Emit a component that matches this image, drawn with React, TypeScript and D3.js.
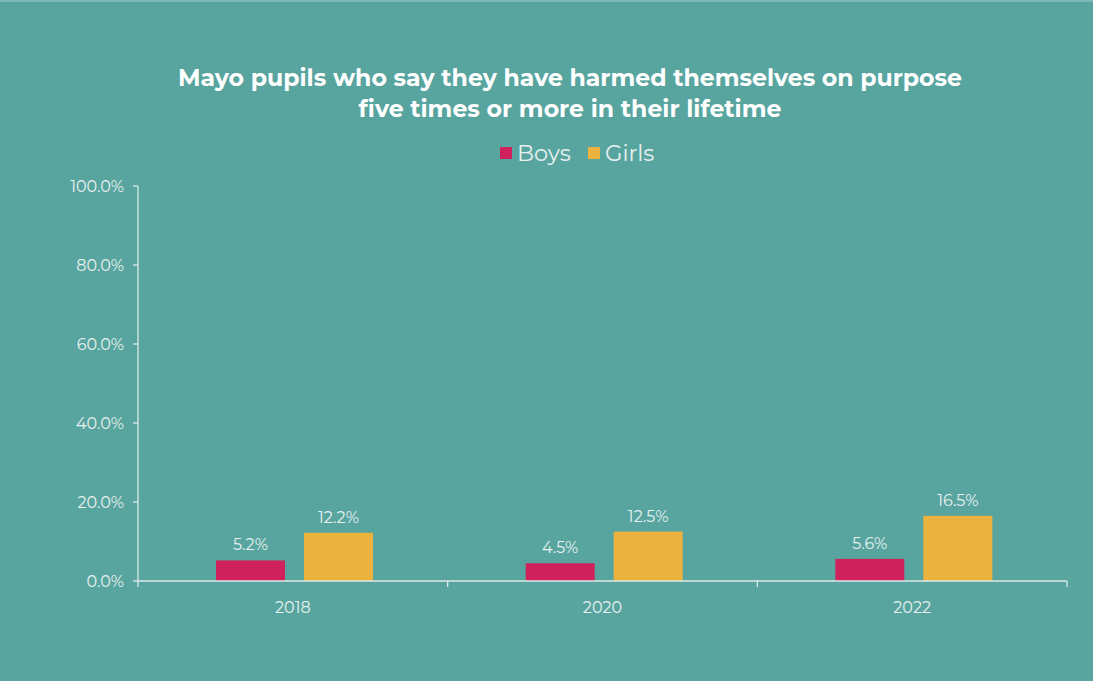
import React from "react";
import * as d3 from "d3";

const years = ["2018", "2020", "2022"];
const seriesNames = ["Boys", "Girls"];
const boys = [5.2, 4.5, 5.6];
const girls = [12.2, 12.5, 16.5];
const yTicks = [0, 20, 40, 60, 80, 100];
const titleLines = [
  "Mayo pupils who say they have harmed themselves on purpose",
  "five times or more in their lifetime",
];

const W = 1093;
const H = 681;
const BG = "#58A5A0";
const COLORS = ["#CF225C", "#EBB23E"];
const TXT = "#E8F1EF";
const AXIS = "#DCEAE7";
const FONT = "Montserrat, 'Open Sans', Lato, sans-serif";

export default function App() {
  const left = 138;
  const right = 1067;
  const top = 186;
  const bottom = 581;
  const x = d3.scaleBand<string>().domain(years).range([left, right]).paddingInner(0).paddingOuter(0);
  const inner = d3.scaleBand<string>().domain(seriesNames).range([78, 235]).paddingInner(19 / 88);
  const y = d3.scaleLinear().domain([0, 100]).range([bottom, top]);
  const data = [boys, girls];

  return (
    <svg width={W} height={H} style={{ position: "absolute", left: 0, top: 0, display: "block" }}>
      <rect x={0} y={0} width={W} height={H} fill={BG} />
      <rect x={0} y={0} width={W} height={2} fill="#7DB8B4" />
      <g fontFamily={FONT}>
        {titleLines.map((t, i) => (
          <text key={i} x={570} y={86 + i * 31} textAnchor="middle" fill="#FFFFFF" fontSize={23.6} fontWeight="bold">
            {t}
          </text>
        ))}
        {/* legend */}
        {seriesNames.map((s, i) => {
          const lx = i === 0 ? 500 : 588;
          return (
            <g key={s}>
              <rect x={lx} y={147} width={12} height={12} fill={COLORS[i]} />
              <text x={lx + 17} y={161} fill={TXT} fontSize={22.5}>
                {s}
              </text>
            </g>
          );
        })}
        {/* y axis */}
        <line x1={left} x2={left} y1={top} y2={bottom} stroke={AXIS} strokeWidth={1.3} />
        {yTicks.map((t) => (
          <g key={t}>
            <line x1={left - 5} x2={left} y1={y(t)} y2={y(t)} stroke={AXIS} strokeWidth={1.3} />
            <text x={left - 14} y={y(t) + 6} textAnchor="end" fill={TXT} fontSize={16}>
              {t.toFixed(1) + "%"}
            </text>
          </g>
        ))}
        {/* bars */}
        {years.map((yr, yi) => (
          <g key={yr} transform={`translate(${x(yr)},0)`}>
            {seriesNames.map((s, si) => {
              const v = data[si][yi];
              const bx = inner(s)!;
              const bw = inner.bandwidth();
              return (
                <g key={s}>
                  <rect x={bx} y={y(v)} width={bw} height={bottom - y(v)} fill={COLORS[si]} />
                  <text x={bx + bw / 2} y={y(v) - 10} textAnchor="middle" fill={TXT} fontSize={16}>
                    {v.toFixed(1) + "%"}
                  </text>
                </g>
              );
            })}
            <text x={x.bandwidth() / 2} y={613} textAnchor="middle" fill={TXT} fontSize={16}>
              {yr}
            </text>
          </g>
        ))}
        {/* x axis */}
        <line x1={left} x2={right} y1={bottom} y2={bottom} stroke={AXIS} strokeWidth={1.5} />
        {[...years.map((yr) => x(yr)!), right].map((px, i) => (
          <line key={i} x1={px} x2={px} y1={bottom} y2={bottom + 6} stroke={AXIS} strokeWidth={1.3} />
        ))}
      </g>
    </svg>
  );
}
